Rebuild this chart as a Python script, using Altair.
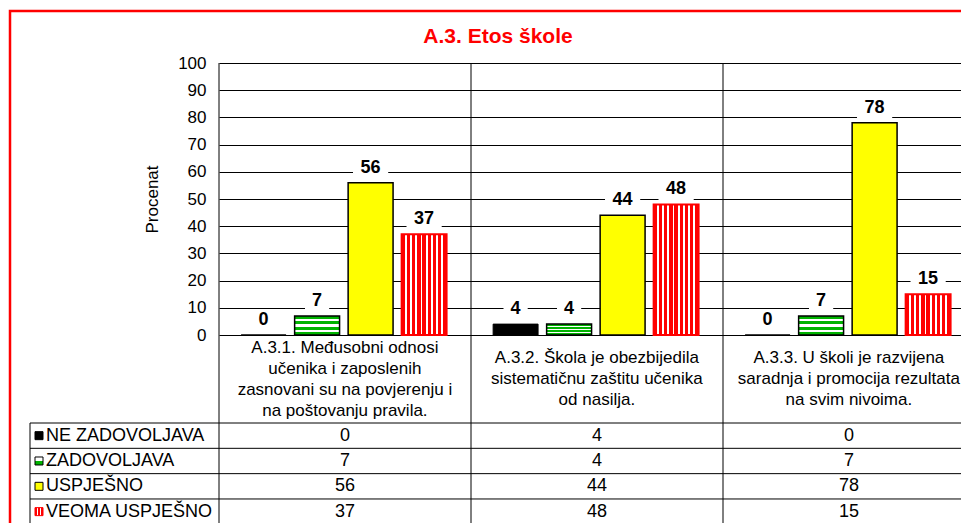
import altair as alt
import pandas as pd

# ---------------- data ----------------
categories = ["A.3.1.", "A.3.2.", "A.3.3."]
category_labels = [
    "A.3.1. Međusobni odnosi\nučenika i zaposlenih\nzasnovani su na povjerenju i\nna poštovanju pravila.",
    "A.3.2. Škola je obezbijedila\nsistematičnu zaštitu učenika\nod nasilja.",
    "A.3.3. U školi je razvijena\nsaradnja i promocija rezultata\nna svim nivoima.",
]
series = ["NE ZADOVOLJAVA", "ZADOVOLJAVA", "USPJEŠNO", "VEOMA USPJEŠNO"]
ne_zadovoljava = [0, 4, 0]
zadovoljava = [7, 4, 7]
uspjesno = [56, 44, 78]
veoma_uspjesno = [37, 48, 15]
y_ticks = [0, 10, 20, 30, 40, 50, 60, 70, 80, 90, 100]
title_text = "A.3. Etos škole"
y_title = "Procenat"

values_by_series = [ne_zadovoljava, zadovoljava, uspjesno, veoma_uspjesno]
rows = []
for s, vals in zip(series, values_by_series):
    for c, v in zip(categories, vals):
        rows.append({"category": c, "series": s, "value": v, "digits": str(len(str(v)))})
df = pd.DataFrame(rows)
cat_df = pd.DataFrame({"category": categories, "label": category_labels,
                       "nlines": [lab.count("\n") + 1 for lab in category_labels]})
series_df = pd.DataFrame({"series": series})
one = pd.DataFrame({"k": [0]})

# ---------------- styles ----------------
FONT = "Liberation Sans, Arial, sans-serif"
GREEN = "#00B400"
RED = "#FF0000"
YELLOW = "#FFFF00"
TXT = 18
LINE_H = 21
HEADER_MID = 316
CENTER_BAND = 0.529   # column centre inside the (slightly narrower) band
LABEL_LIFT = -15


def hard_stops(segments):
    stops = []
    for a, b, col in segments:
        stops.append(alt.GradientStop(offset=a, color=col))
        stops.append(alt.GradientStop(offset=b, color=col))
    return stops


# horizontal green/white stripes
g_n = 7
green_segments = [(i / g_n, (i + 1) / g_n, GREEN if i % 2 == 0 else "white") for i in range(g_n)]
green_fill = alt.LinearGradient(gradient="linear", x1=0, y1=0, x2=0, y2=1,
                                stops=hard_stops(green_segments))
# vertical red/white stripes
r_n = 8
P = 1 / (r_n + 0.65)
red_segments = []
for k in range(r_n):
    red_segments.append((k * P, k * P + 0.65 * P, RED))
    red_segments.append((k * P + 0.65 * P, (k + 1) * P, "white"))
red_segments.append((r_n * P, 1.0, RED))
red_fill = alt.LinearGradient(gradient="linear", x1=0, y1=0, x2=1, y2=0,
                              stops=hard_stops(red_segments))
# legend swatch stripes
sw_green = alt.LinearGradient(gradient="linear", x1=0, y1=0, x2=0, y2=1,
                              stops=hard_stops([(0, 0.5, "white"), (0.5, 1, GREEN)]))
sw_red = alt.LinearGradient(gradient="linear", x1=0, y1=0, x2=1, y2=0,
                            stops=hard_stops([(0, 0.3, RED), (0.3, 0.42, "white"), (0.42, 0.58, RED),
                                              (0.58, 0.7, "white"), (0.7, 1, RED)]))

styles = {
    "NE ZADOVOLJAVA": dict(fill="black", stroke="black", strokeWidth=1),
    "ZADOVOLJAVA": dict(fill=green_fill, stroke="black", strokeWidth=1.5),
    "USPJEŠNO": dict(fill=YELLOW, stroke="black", strokeWidth=1.5),
    "VEOMA USPJEŠNO": dict(fill=red_fill, stroke=RED, strokeWidth=2),
}
swatch_styles = {
    "NE ZADOVOLJAVA": dict(fill="black", stroke="black"),
    "ZADOVOLJAVA": dict(fill=sw_green, stroke="black"),
    "USPJEŠNO": dict(fill=YELLOW, stroke="black"),
    "VEOMA USPJEŠNO": dict(fill=sw_red, stroke=RED),
}

# 742 px plot: column step 252 px, the third column runs past the right edge
x_scale = alt.Scale(domain=categories, paddingInner=0.0556, paddingOuter=0, align=0)
xoff_scale = alt.Scale(domain=series, paddingInner=0.16, paddingOuter=0.304, align=0.68)
y_scale = alt.Scale(domain=[0, 100], nice=False, zero=True)
table_y = alt.Scale(type="band", domain=series, range=[360, 461.3], paddingInner=0, paddingOuter=0)

X = alt.X("category:N", scale=x_scale, axis=None, sort=categories)
XC = alt.X("category:N", scale=x_scale, axis=None, sort=categories, bandPosition=CENTER_BAND)
XO = alt.XOffset("series:N", scale=xoff_scale, sort=series)

y_axis = alt.Axis(values=y_ticks, grid=True, gridColor="black", gridWidth=1, gridOpacity=1,
                  domain=False, ticks=False, labelFont=FONT, labelFontSize=17,
                  labelColor="black", labelPadding=13, title=y_title, titleFont=FONT,
                  titleFontSize=17, titleFontWeight="normal", titleColor="black",
                  titlePadding=16)

layers = []

# outer red border
layers.append(alt.Chart(one).mark_rect(fillOpacity=0, stroke=RED, strokeWidth=2.5).encode(
    x=alt.value(-209), x2=alt.value(800), y=alt.value(-52), y2=alt.value(520)))

# bars
for i, s in enumerate(series):
    st = styles[s]
    layers.append(
        alt.Chart(df).transform_filter(alt.datum.series == s).mark_bar(
            fill=st["fill"], stroke=st["stroke"], strokeWidth=st["strokeWidth"], opacity=1
        ).encode(
            x=X, xOffset=XO,
            y=alt.Y("value:Q", scale=y_scale, axis=y_axis if i == 0 else None),
        )
    )

# white label boxes
box1 = "M-1.1,-1H1.1V1H-1.1Z"
box2 = "M-1.6,-1H1.6V1H-1.6Z"
layers.append(
    alt.Chart(df).mark_point(filled=True, color="white", size=484, opacity=1, strokeWidth=0,
                             yOffset=LABEL_LIFT).encode(
        x=X, xOffset=XO,
        y=alt.Y("value:Q", scale=y_scale, axis=None),
        shape=alt.Shape("digits:N", scale=alt.Scale(domain=["1", "2"], range=[box1, box2]),
                        legend=None),
    )
)
# value labels
layers.append(
    alt.Chart(df).mark_text(font=FONT, fontSize=18, fontWeight="bold", color="black",
                            baseline="middle", dy=LABEL_LIFT).encode(
        x=X, xOffset=XO,
        y=alt.Y("value:Q", scale=y_scale, axis=None),
        text=alt.Text("value:Q"),
    )
)

# table: vertical separators
layers.append(
    alt.Chart(cat_df).mark_rule(color="black", strokeWidth=1).encode(
        x=alt.X("category:N", scale=x_scale, axis=None, sort=categories, bandPosition=0),
        y=alt.value(0), y2=alt.value(520),
    )
)
# table: left border
layers.append(alt.Chart(one).mark_rule(color="black", strokeWidth=1).encode(
    x=alt.value(-189), y=alt.value(360), y2=alt.value(520)))
# table: row lines
layers.append(
    alt.Chart(series_df).mark_rule(color="black", strokeWidth=1).encode(
        y=alt.Y("series:N", scale=table_y, axis=None, sort=series, bandPosition=0),
        x=alt.value(-189), x2=alt.value(800),
    )
)
# category header labels (vertically centred blocks)
for n in sorted(set(cat_df["nlines"])):
    layers.append(
        alt.Chart(cat_df).transform_filter(alt.datum.nlines == int(n)).mark_text(
            font=FONT, fontSize=17, lineBreak="\n", lineHeight=LINE_H,
            baseline="middle", align="center", color="black").encode(
            x=XC, y=alt.value(HEADER_MID - (int(n) - 1) * LINE_H / 2), text=alt.Text("label:N"),
        )
    )
# table values
layers.append(
    alt.Chart(df).mark_text(font=FONT, fontSize=TXT, baseline="middle", align="center",
                            color="black").encode(
        x=XC,
        y=alt.Y("series:N", scale=table_y, axis=None, sort=series),
        text=alt.Text("value:Q"),
    )
)
# row labels
layers.append(
    alt.Chart(series_df).mark_text(font=FONT, fontSize=TXT, baseline="middle", align="left",
                                   color="black").encode(
        x=alt.value(-173),
        y=alt.Y("series:N", scale=table_y, axis=None, sort=series),
        text=alt.Text("series:N"),
    )
)
# legend swatches
for s in series:
    st = swatch_styles[s]
    layers.append(
        alt.Chart(series_df).transform_filter(alt.datum.series == s).mark_square(
            size=64, fill=st["fill"], stroke=st["stroke"], strokeWidth=1, opacity=1
        ).encode(
            x=alt.value(-180),
            y=alt.Y("series:N", scale=table_y, axis=None, sort=series),
        )
    )
# title
layers.append(alt.Chart(one).mark_text(font=FONT, fontSize=21, fontWeight="bold", color=RED,
                                       baseline="middle", align="center").encode(
    x=alt.value(279), y=alt.value(-26), text=alt.value(title_text)))

chart = alt.layer(*layers).resolve_scale(y="independent").properties(
    width=742, height=272,
    autosize=alt.AutoSizeParams(type="none"),
    padding={"left": 211, "top": 55, "right": 0, "bottom": 188},
    background="white",
).configure_view(strokeWidth=0)

chart.save("out.html", embed_options={"renderer": "svg", "actions": False})
